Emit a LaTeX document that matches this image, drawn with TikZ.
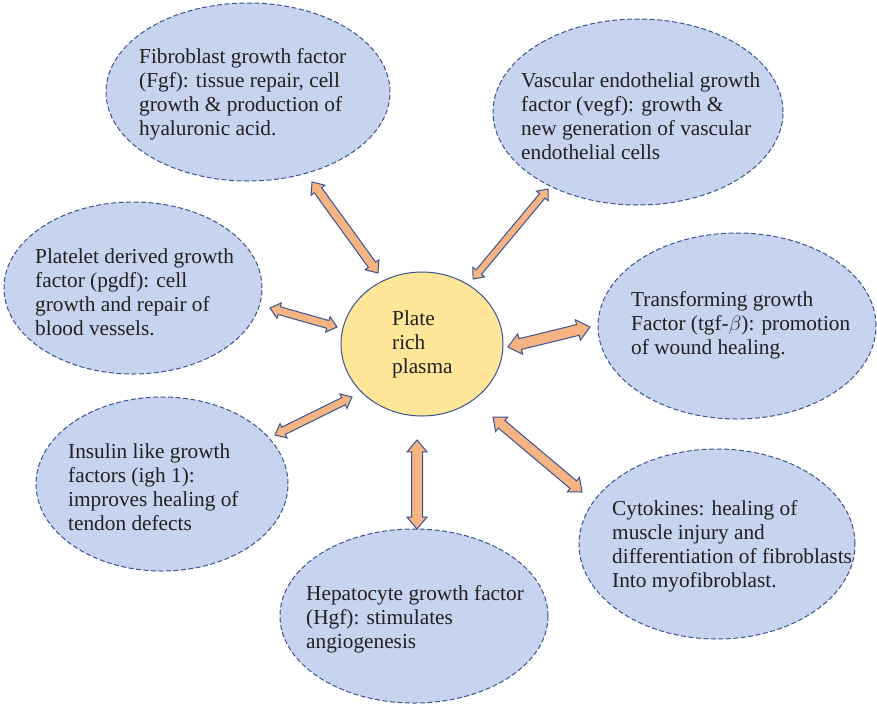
\documentclass[tikz,border=0pt]{standalone}
\usepackage{fontspec}
\setmainfont{Liberation Serif}
\usetikzlibrary{shapes.geometric,shapes.arrows,calc}
\definecolor{ellfill}{HTML}{C7D4F0}
\definecolor{ellline}{HTML}{3A5290}
\definecolor{ppfill}{HTML}{FFE699}
\definecolor{arrfill}{HTML}{F6B483}
\definecolor{arrline}{HTML}{3A5290}
\definecolor{txtcol}{HTML}{231F20}
\newcommand\blockarrow[4]{%
  \path let \p1=($(#2)-(#1)$), \n1={veclen(\x1,\y1)}, \n2={atan2(\y1,\x1)} in
    node[blk, minimum height=\n1, inner ysep=#3, double arrow head extend=#4, rotate=\n2] at ($(#1)!0.5!(#2)$) {};}
\begin{document}
\begin{tikzpicture}[x=1pt,y=-1pt,
  bub/.style={ellipse, draw=ellline, fill=ellfill, dash pattern=on 5pt off 2.5pt, line width=1pt, inner sep=0pt},
  txt/.style={anchor=north west, align=left, inner sep=0pt, font=\fontsize{21.3}{24}\selectfont, text=txtcol},
  blk/.style={double arrow, draw=arrline, fill=arrfill, line width=1pt, inner xsep=0pt, double arrow tip angle=80}]
\useasboundingbox (0,0) rectangle (877,705);

\node[bub, minimum width=284, minimum height=178] (fib) at (248,92) {};
\node[bub, minimum width=290, minimum height=186] (vasc) at (638,112) {};
\node[bub, minimum width=258, minimum height=172] (plat) at (133,288) {};
\node[bub, minimum width=278, minimum height=186] (tgf) at (737,326) {};
\node[bub, minimum width=252, minimum height=174] (ins) at (162,484) {};
\node[bub, minimum width=276, minimum height=190] (cyto) at (717,544) {};
\node[bub, minimum width=268, minimum height=174] (hep) at (414,616) {};
\node[ellipse, draw=ellline, fill=ppfill, line width=1pt, inner sep=0pt, minimum width=162, minimum height=144] (ppp) at (422,344) {};

\node[txt] (fibt) at (139,48.5) {Fibroblast growth factor\\(Fgf): tissue repair, cell\\growth \& production of\\hyaluronic acid.};
\node[txt] (vasct) at (521,72.5) {Vascular endothelial growth\\factor (vegf): growth \&\\new generation of vascular\\endothelial cells};
\node[txt] (platt) at (35,248.5) {Platelet derived growth\\factor (pgdf): cell\\growth and repair of\\blood vessels.};
\node[txt] (tgft) at (631,291.5) {Transforming growth\\Factor (tgf-$\beta$): promotion\\of wound healing.};
\node[txt] (inst) at (68,443.5) {Insulin like growth\\factors (igh 1):\\improves healing of\\tendon defects};
\node[txt] (cytot) at (612,500.5) {Cytokines: healing of\\muscle injury and\\differentiation of fibroblasts\\Into myofibroblast.};
\node[txt] (hept) at (306,585.5) {Hepatocyte growth factor\\(Hgf): stimulates\\angiogenesis};
\node[txt] (pppt) at (392,310.5) {Plate\\rich\\plasma};

\coordinate (a1) at (312,182); \coordinate (b1) at (378,273);
\coordinate (a2) at (548,189); \coordinate (b2) at (473,279);
\coordinate (a3) at (270,308); \coordinate (b3) at (337,327);
\coordinate (a4) at (590,327); \coordinate (b4) at (508,347);
\coordinate (a5) at (275,435); \coordinate (b5) at (352,397);
\coordinate (a6) at (417,529); \coordinate (b6) at (417,440);
\coordinate (a7) at (582,492); \coordinate (b7) at (493,417);

\blockarrow{a1}{b1}{4pt}{4pt}
\blockarrow{a2}{b2}{3pt}{4pt}
\blockarrow{a3}{b3}{3.5pt}{4pt}
\blockarrow{a4}{b4}{5pt}{5pt}
\blockarrow{a5}{b5}{3.5pt}{4pt}
\blockarrow{a6}{b6}{5pt}{4.5pt}
\blockarrow{a7}{b7}{4.5pt}{4.5pt}
\end{tikzpicture}
\end{document}
